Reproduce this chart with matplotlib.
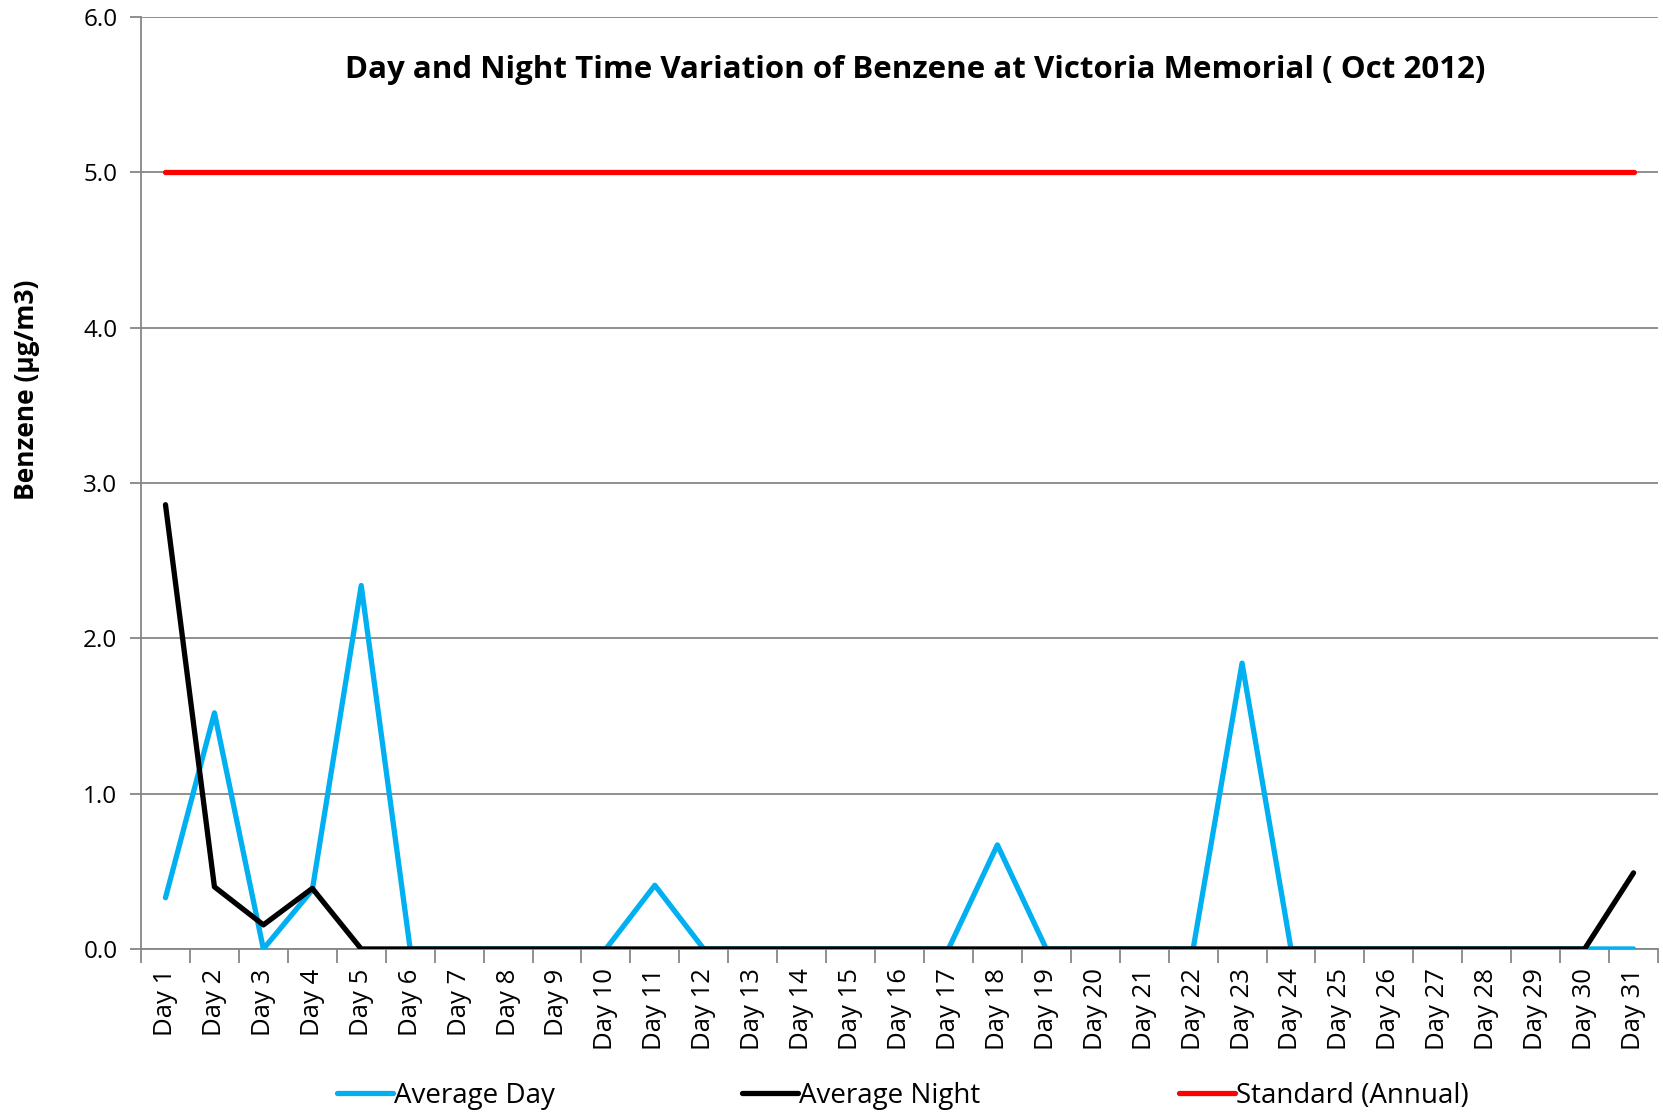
import numpy as np
import matplotlib.pyplot as plt

# Benzene readings at Victoria Memorial, Oct 2012
days = ['Day ' + str(i) for i in range(1, 32)]
avg_day = [0.33, 1.52, 0.0, 0.38, 2.34, 0.0, 0.0, 0.0, 0.0, 0.0,
           0.41, 0.0, 0.0, 0.0, 0.0, 0.0, 0.0, 0.67, 0.0, 0.0,
           0.0, 0.0, 1.84, 0.0, 0.0, 0.0, 0.0, 0.0, 0.0, 0.0, 0.0]
avg_night = [2.86, 0.40, 0.155, 0.39, 0.0, 0.0, 0.0, 0.0, 0.0, 0.0,
             0.0, 0.0, 0.0, 0.0, 0.0, 0.0, 0.0, 0.0, 0.0, 0.0,
             0.0, 0.0, 0.0, 0.0, 0.0, 0.0, 0.0, 0.0, 0.0, 0.0, 0.49]
standard = [5.0] * 31
y_ticks = [0.0, 1.0, 2.0, 3.0, 4.0, 5.0, 6.0]

plt.rcParams['font.family'] = ['Open Sans', 'DejaVu Sans']

fig = plt.figure(figsize=(16.63, 11.15), dpi=100)
ax = fig.add_axes([0.0848, 0.1489, 0.9122, 0.8359])

x = np.arange(1, len(days) + 1)
grid_col = '#868686'

l_day, = ax.plot(x, avg_day, color='#00B0F0', lw=3.8, solid_capstyle='round', zorder=3)
l_night, = ax.plot(x, avg_night, color='black', lw=3.8, solid_capstyle='round', zorder=4)
l_std, = ax.plot(x, standard, color='#FF0000', lw=3.8, solid_capstyle='round', zorder=3)

ax.set_xlim(0.5, len(days) + 0.5)
ax.set_ylim(0, 6)
ax.set_yticks(y_ticks)
ax.set_yticklabels(['%.1f' % v for v in y_ticks], fontsize=17.5)
ax.yaxis.grid(True, color=grid_col, lw=1.3)
ax.set_axisbelow(True)

ax.set_xticks(x)
ax.set_xticklabels(days, rotation=90, fontsize=18.5)
ax.set_xticks(np.arange(0.5, len(days) + 1, 1.0), minor=True)
ax.tick_params(axis='x', which='major', length=0, pad=14)
ax.tick_params(axis='x', which='minor', length=10, color=grid_col, width=1.3)
ax.tick_params(axis='y', length=8, color=grid_col, width=1.3, pad=9)

for s in ['top', 'right']:
    ax.spines[s].set_visible(False)
for s in ['left', 'bottom']:
    ax.spines[s].set_color(grid_col)
    ax.spines[s].set_linewidth(1.3)

ax.set_ylabel('Benzene (µg/m3)', fontsize=19, fontweight='bold')
ax.yaxis.set_label_coords(-0.0666, 0.6)
ax.text(0.5105, 0.943, 'Day and Night Time Variation of Benzene at Victoria Memorial ( Oct 2012)',
        transform=ax.transAxes, ha='center', va='center', fontsize=22.5, fontweight='bold')

# one legend per entry so each sits where the reference puts it
entries = [(l_day, 'Average Day', 337), (l_night, 'Average Night', 742),
           (l_std, 'Standard (Annual)', 1179)]
for handle, name, px in entries:
    leg = fig.legend([handle], [name], loc='center left',
                     bbox_to_anchor=(px / 1663.0, 19 / 1115.0), frameon=False,
                     fontsize=20, handlelength=2.0, handletextpad=0.05,
                     borderpad=0, borderaxespad=0)

plt.savefig('out.png', dpi=100)
